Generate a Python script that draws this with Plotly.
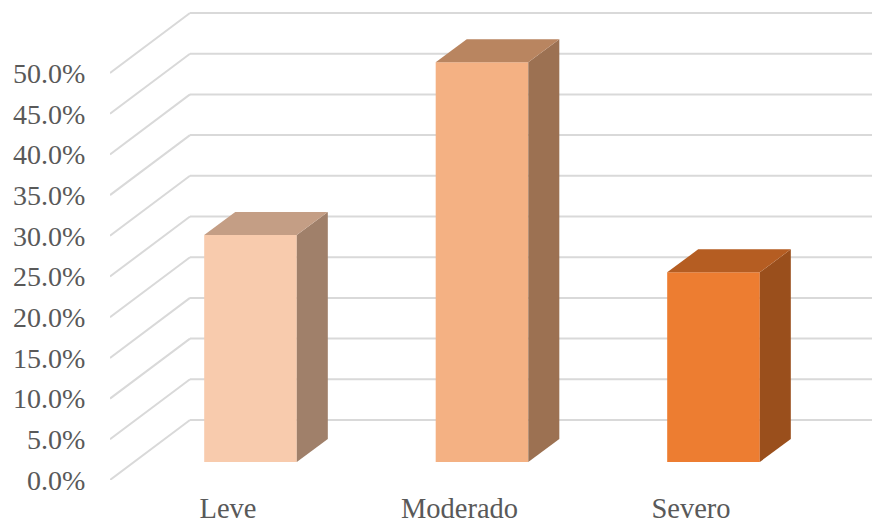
import plotly.graph_objects as go

# Severity categories and their shares (%)
categories = ["Leve", "Moderado", "Severo"]
values = [27.9, 49.1, 23.3]
y_ticks = [0, 5, 10, 15, 20, 25, 30, 35, 40, 45, 50]
y_tick_labels = ["0.0%", "5.0%", "10.0%", "15.0%", "20.0%", "25.0%",
                 "30.0%", "35.0%", "40.0%", "45.0%", "50.0%"]

front_colors = ["#F8CBAD", "#F4B183", "#ED7D31"]
side_colors = ["#A0806A", "#9C7152", "#9A4F1C"]
top_colors = ["#C49E85", "#B98560", "#B55D22"]

GRID = "#D9D9D9"
TEXT = "#595959"
FONT = "Liberation Serif"

# Oblique projection offsets, expressed in axis units
WALL_DX, WALL_DY = 0.3456, 7.37      # depth of the back wall
BAR_DX, BAR_DY = 0.134, 2.83         # depth of a bar
BASE_DX, BASE_DY = 0.0972, 2.21      # bar inset from the floor's front edge
BAR_W = 0.4

X_MIN, X_MAX = -0.5097, 2.7819

fig = go.Figure()

# Back-wall gridlines with their diagonals along the side wall
for t in y_ticks:
    fig.add_shape(type="line", layer="below", xref="x", yref="y",
                  x0=X_MIN, y0=t, x1=X_MIN + WALL_DX, y1=t + WALL_DY,
                  line=dict(color=GRID, width=2))
    fig.add_shape(type="line", layer="below", xref="x", yref="y",
                  x0=X_MIN + WALL_DX, y0=t + WALL_DY, x1=X_MAX, y1=t + WALL_DY,
                  line=dict(color=GRID, width=2))

# Front faces
fig.add_trace(go.Bar(
    x=[i + BASE_DX for i in range(len(categories))],
    y=values,
    base=[BASE_DY] * len(values),
    width=BAR_W,
    marker=dict(color=front_colors, line=dict(width=0)),
    hoverinfo="skip",
))

# Side and top faces
for i, v in enumerate(values):
    left = i + BASE_DX - BAR_W / 2
    right = i + BASE_DX + BAR_W / 2
    low = BASE_DY
    high = BASE_DY + v
    fig.add_trace(go.Scatter(
        x=[right, right + BAR_DX, right + BAR_DX, right, right],
        y=[low, low + BAR_DY, high + BAR_DY, high, low],
        mode="lines", fill="toself", fillcolor=side_colors[i],
        line=dict(width=0), hoverinfo="skip",
    ))
    fig.add_trace(go.Scatter(
        x=[left, right, right + BAR_DX, left + BAR_DX, left],
        y=[high, high, high + BAR_DY, high + BAR_DY, high],
        mode="lines", fill="toself", fillcolor=top_colors[i],
        line=dict(width=0), hoverinfo="skip",
    ))

fig.update_layout(
    width=872, height=525,
    margin=dict(l=110, r=0, t=0, b=45, autoexpand=False),
    paper_bgcolor="white", plot_bgcolor="white",
    showlegend=False,
    font=dict(family=FONT, size=28, color=TEXT),
    xaxis=dict(
        range=[X_MIN, X_MAX],
        tickmode="array",
        tickvals=list(range(len(categories))),
        ticktext=categories,
        tickfont=dict(size=28.5),
        automargin=False,
        showgrid=False, zeroline=False, showline=False,
        ticks="outside", ticklen=3, tickcolor="rgba(0,0,0,0)",
    ),
    yaxis=dict(
        range=[0, 58.97],
        tickmode="array",
        tickvals=y_ticks,
        ticktext=y_tick_labels,
        automargin=False,
        showgrid=False, zeroline=False, showline=False,
        ticks="outside", ticklen=18, tickcolor="rgba(0,0,0,0)",
    ),
)

fig.write_html("out.html", config=dict(displayModeBar=False))
